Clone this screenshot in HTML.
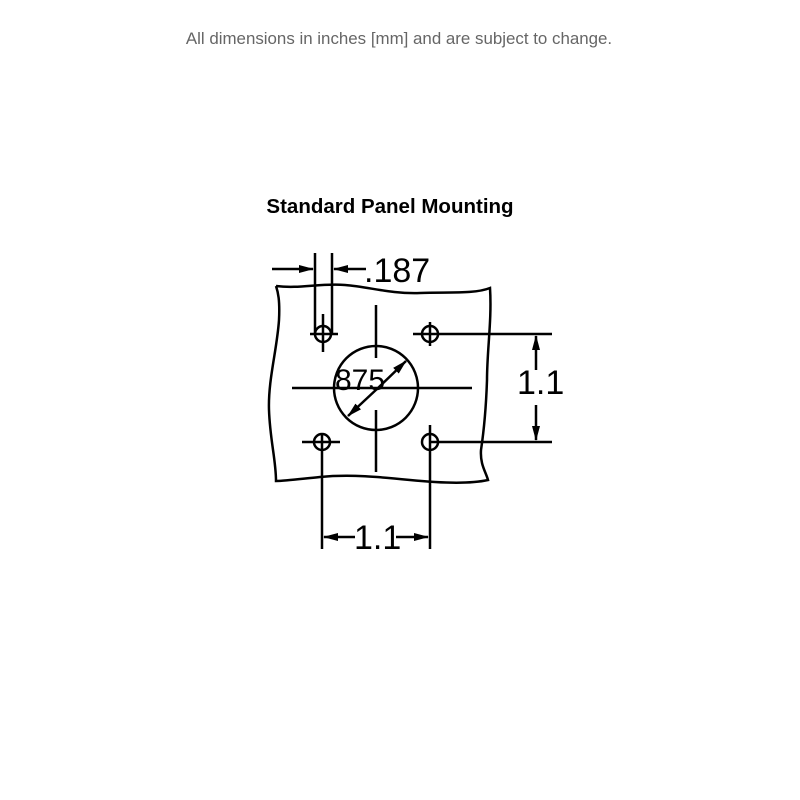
<!DOCTYPE html>
<html><head><style>
body{margin:0;width:800px;height:800px;background:#fff;position:relative;overflow:hidden}
.t{position:absolute;left:0;width:800px;text-align:center;font-family:"Liberation Sans",sans-serif}
</style></head><body>
<div class="t" style="top:29px;font-size:16.9px;color:#666;left:-1px">All dimensions in inches [mm] and are subject to change.</div>
<div class="t" style="top:195px;font-size:20.5px;font-weight:bold;color:#000;left:-10px">Standard Panel Mounting</div>
<svg width="800" height="800" style="position:absolute;left:0;top:0" viewBox="0 0 800 800">
<defs><marker id="a" markerWidth="15" markerHeight="10" refX="14" refY="5" orient="auto" markerUnits="userSpaceOnUse"><path d="M0,1 L15,5 L0,9z" fill="#000"/></marker></defs>
<g stroke="#000" stroke-width="2.5" fill="none">
<path d="M276,286 C300,289 320,283 345,285 C370,287 390,294 420,293 C450,292 475,294 490,288 C492,320 487,350 487,380 C486,410 484,430 481,450 C480,465 486,472 488,480 C470,484 440,483 410,480 C380,477 350,474 320,477 C300,479 285,481 276,481 C276,460 270,440 269,410 C268,380 277,350 279,320 C280,300 278,292 276,286"/>
<circle cx="376" cy="388" r="42"/>
<circle cx="323" cy="334" r="8"/><circle cx="430" cy="334" r="8"/>
<circle cx="322" cy="442" r="8"/><circle cx="430" cy="442" r="8"/>
<path d="M292,388H472M376,305V358M376,410V472"/>
<path d="M315,253V333M332,253V333M323,314V352M310,334H338"/>
<path d="M413,334H552M430,322V346"/>
<path d="M302,442H340M322,433V549"/>
<path d="M430,442H552M430,425V549"/>
<path d="M272,269H313" marker-end="url(#a)"/>
<path d="M366,269H334" marker-end="url(#a)"/>
<path d="M536,370V336" marker-end="url(#a)"/>
<path d="M536,405V440" marker-end="url(#a)"/>
<path d="M355,537H324" marker-end="url(#a)"/>
<path d="M396,537H428" marker-end="url(#a)"/>
<path d="M378,388L348,416" marker-end="url(#a)"/>
<path d="M378,388L406,361" marker-end="url(#a)"/>
</g>
<g font-family="Liberation Sans,sans-serif" fill="#000">
<text x="364" y="282" font-size="34">.187</text>
<text x="517" y="394" font-size="34">1.1</text>
<text x="354" y="549" font-size="34">1.1</text>
<text x="335" y="390" font-size="30">875</text>
</g>
</svg>
</body></html>
